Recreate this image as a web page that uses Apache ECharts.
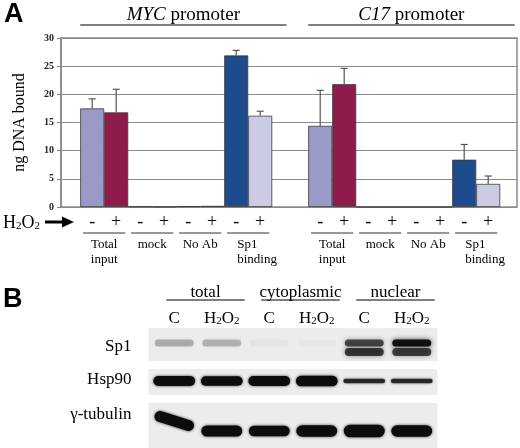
<!DOCTYPE html>
<html><head><meta charset="utf-8">
<script src="https://cdn.jsdelivr.net/npm/echarts@6/dist/echarts.min.js"></script>
<style>html,body{margin:0;padding:0;background:#fff}#c{width:520px;height:448px}</style>
</head><body><div id="c"></div>
<script>
// ---------------- data (panel A) ----------------
const promoters = ['MYC', 'C17'];
const groupLabels = ['Total\ninput', 'mock', 'No Ab', 'Sp1\nbinding'];
const treatments = ['-', '+'];
const yTicks = [0, 5, 10, 15, 20, 25, 30];
const mycMinus = [17.5, 0.1, 0.15, 26.9];
const mycPlus = [16.8, 0.05, 0.2, 16.2];
const mycMinusErr = [1.7, 0, 0, 0.9];
const mycPlusErr = [4.1, 0, 0, 0.8];
const c17Minus = [14.4, 0, 0, 8.4];
const c17Plus = [21.8, 0, 0, 4.1];
const c17MinusErr = [6.3, 0, 0, 2.7];
const c17PlusErr = [2.8, 0, 0, 1.4];

// ---------------- data (panel B, band intensities) ----------------
const lanes = ['C', 'H2O2', 'C', 'H2O2', 'C', 'H2O2'];
const fractions = ['total', 'cytoplasmic', 'nuclear'];
const blotRows = ['Sp1', 'Hsp90', 'γ-tubulin'];
const sp1Upper = [0.26, 0.24, 0.03, 0.02, 0.68, 0.97];
const sp1Lower = [0.0, 0.0, 0.0, 0.0, 0.75, 0.72];
const hsp90 = [1.0, 0.95, 1.0, 1.05, 0.45, 0.45];
const tubulin = [1.0, 1.0, 0.95, 1.05, 1.15, 1.05];

// ---------------- layout & style ----------------
const SERIF = '"Liberation Serif", "Times New Roman", serif';
const groupOffset = [0.9, 5.65];
const xMax = 9.5;
const barColors = {
  '-': ['#9b99c7', '#6e2040', '#4b2a5a', '#1d4b8c'],
  '+': ['#8e1b4c', '#b08a8a', '#b0604a', '#cbcbe5']
};
const labelAlign = ['center', 'center', 'center', 'left'];
const rowBoxes = [[0, 33], [41, 67], [75, 120]];
const bandY = [15, 24, 53, 103];
const rowLabelY = [19, 52, 87];
const fractionLanes = [[0, 1], [2, 3], [4, 5]];
const bandTilt = [{ kind: 3, lane: 0, dy: -10, rot: -0.3 }];

const minusVals = [mycMinus, c17Minus], plusVals = [mycPlus, c17Plus];
const minusErr = [mycMinusErr, c17MinusErr], plusErr = [mycPlusErr, c17PlusErr];

const barData = [], errData = [], groupData = [];
promoters.forEach((p, pi) => {
  groupLabels.forEach((g, gi) => {
    const c = groupOffset[pi] + gi;
    barData.push({ value: [c - 0.25, minusVals[pi][gi]], itemStyle: { color: barColors['-'][gi] } });
    barData.push({ value: [c + 0.25, plusVals[pi][gi]], itemStyle: { color: barColors['+'][gi] } });
    if (minusErr[pi][gi] > 0) errData.push([c - 0.25, minusVals[pi][gi], minusErr[pi][gi]]);
    if (plusErr[pi][gi] > 0) errData.push([c + 0.25, plusVals[pi][gi], plusErr[pi][gi]]);
    groupData.push([c, gi]);
  });
});
const headerData = promoters.map((p, pi) => [groupOffset[pi], pi]);

const bandData = [];
lanes.forEach((l, i) => {
  bandData.push([i, bandY[0], sp1Upper[i], 0]);
  bandData.push([i, bandY[1], sp1Lower[i], 1]);
  bandData.push([i, bandY[2], hsp90[i], 2]);
  bandData.push([i, bandY[3], tubulin[i], 3]);
});
const bandSpec = [
  { w: 0.82, h: v => 7, a: v => v, blur: 5 },
  { w: 0.82, h: v => 8, a: v => v, blur: 5 },
  { w: 0.88, h: v => 10 * v, a: v => Math.min(1, 0.35 + v), blur: 3 },
  { w: 0.86, h: v => 11 * v, a: v => 1, blur: 3 }
];

// text via rich tokens so the serif family is honoured
function txt(x, y, text, size, align, valign, lh) {
  const rt = String(text).split('\n').map(s => '{t|' + s + '}').join('\n');
  return {
    type: 'text', x: x, y: y,
    style: {
      text: rt,
      rich: { t: { fontSize: size, fontFamily: SERIF, color: '#000', lineHeight: lh || Math.round(size * 1.15), align: align } },
      align: align, verticalAlign: valign
    }
  };
}
const subRich = {
  n: { fontSize: 18, fontFamily: SERIF, color: '#000', lineHeight: 20, verticalAlign: 'bottom' },
  s: { fontSize: 11, fontFamily: SERIF, color: '#000', lineHeight: 9, verticalAlign: 'bottom' }
};

const chart = echarts.init(document.getElementById('c'));
chart.setOption({
  animation: false,
  backgroundColor: '#fff',
  grid: [
    { left: 61, top: 38, width: 456, height: 169, show: true, borderColor: '#8a8a8a', borderWidth: 1.5, backgroundColor: 'transparent' },
    { left: 150.5, top: 328, width: 285, height: 120 }
  ],
  xAxis: [
    { gridIndex: 0, type: 'value', min: 0, max: xMax, show: false },
    {
      gridIndex: 1, type: 'category', data: lanes, position: 'top',
      axisLine: { show: false }, axisTick: { show: false }, splitLine: { show: false },
      axisLabel: {
        interval: 0, margin: 1,
        formatter: v => v === 'H2O2' ? '{n|H}{s|2}{n|O}{s|2}' : '{n|' + v + '}',
        rich: {
          n: { fontSize: 17, fontFamily: SERIF, color: '#000', lineHeight: 20, verticalAlign: 'bottom' },
          s: { fontSize: 11, fontFamily: SERIF, color: '#000', lineHeight: 9, verticalAlign: 'bottom' }
        }
      }
    }
  ],
  yAxis: [
    {
      gridIndex: 0, type: 'value', min: yTicks[0], max: yTicks[yTicks.length - 1], interval: yTicks[1] - yTicks[0],
      axisLine: { show: true, lineStyle: { color: '#8a8a8a', width: 1.5 } },
      axisTick: { show: true, length: 4, lineStyle: { color: '#8a8a8a', width: 1.2 } },
      axisLabel: { fontSize: 10, fontFamily: SERIF, fontWeight: 'bold', color: '#222', margin: 7 },
      splitLine: { show: true, lineStyle: { color: '#8a8a8a', width: 1.2 } },
      name: 'ng DNA bound', nameLocation: 'middle', nameGap: 33,
      nameTextStyle: { fontSize: 16, fontFamily: SERIF, color: '#000' }
    },
    { gridIndex: 1, type: 'value', min: 0, max: 120, inverse: true, show: false }
  ],
  graphic: [
    { type: 'text', x: 4, y: 1, style: { text: 'A', fontSize: 27, fontWeight: 'bold', fontFamily: '"Liberation Sans", Arial, sans-serif', fill: '#000', verticalAlign: 'top' } },
    { type: 'text', x: 3, y: 286, style: { text: 'B', fontSize: 27, fontWeight: 'bold', fontFamily: '"Liberation Sans", Arial, sans-serif', fill: '#000', verticalAlign: 'top' } },
    { type: 'text', x: 3, y: 222, style: { text: '{n|H}{s|2}{n|O}{s|2}', rich: subRich, verticalAlign: 'middle', align: 'left' } },
    { type: 'line', shape: { x1: 45, y1: 222, x2: 64, y2: 222 }, style: { stroke: '#000', lineWidth: 3 } },
    { type: 'polygon', shape: { points: [[62, 216.5], [74, 222], [62, 227.5]] }, style: { fill: '#000' } }
  ],
  series: [
    {
      type: 'bar', xAxisIndex: 0, yAxisIndex: 0, data: barData, barWidth: 24,
      itemStyle: { borderColor: '#3c3c3c', borderWidth: 0.8 }, z: 2
    },
    {
      type: 'custom', xAxisIndex: 0, yAxisIndex: 0, data: errData, z: 3, clip: false,
      encode: { x: 0, y: 1 },
      renderItem: (params, api) => {
        const x = api.value(0), y = api.value(1), e = api.value(2);
        const p0 = api.coord([x, y]), p1 = api.coord([x, y + e]);
        const st = { stroke: '#555', lineWidth: 1.2 };
        return {
          type: 'group', children: [
            { type: 'line', shape: { x1: p0[0], y1: p0[1], x2: p1[0], y2: p1[1] }, style: st },
            { type: 'line', shape: { x1: p1[0] - 3.5, y1: p1[1], x2: p1[0] + 3.5, y2: p1[1] }, style: st }
          ]
        };
      }
    },
    {
      type: 'custom', xAxisIndex: 0, yAxisIndex: 0, data: groupData, z: 3, clip: false,
      encode: { x: 0, y: 1 },
      renderItem: (params, api) => {
        const c = api.value(0), gi = api.value(1);
        const base = api.coord([c, 0]);
        const pm = api.coord([c - 0.25, 0]), pp = api.coord([c + 0.25, 0]);
        const half = api.size([0.44, 0])[0];
        const y0 = base[1];
        const al = labelAlign[gi];
        const lx = al === 'left' ? base[0] - 11 : base[0];
        return {
          type: 'group', children: [
            txt(pm[0], y0 + 15, treatments[0], 18, 'center', 'middle'),
            txt(pp[0], y0 + 15, treatments[1], 18, 'center', 'middle'),
            { type: 'line', shape: { x1: base[0] - half, y1: y0 + 26, x2: base[0] + half, y2: y0 + 26 }, style: { stroke: '#333', lineWidth: 1 } },
            txt(lx, y0 + 30, groupLabels[gi], 13, al, 'top', 15)
          ]
        };
      }
    },
    {
      type: 'custom', xAxisIndex: 0, yAxisIndex: 0, data: headerData, z: 3, clip: false,
      encode: { x: 0, y: 1 },
      renderItem: (params, api) => {
        const off = api.value(0), pi = api.value(1);
        const a = api.coord([off - 0.5, yTicks[yTicks.length - 1]]);
        const b = api.coord([off + 3.8, yTicks[yTicks.length - 1]]);
        const yl = a[1] - 13;
        return {
          type: 'group', children: [
            { type: 'line', shape: { x1: a[0], y1: yl, x2: b[0], y2: yl }, style: { stroke: '#000', lineWidth: 1.2 } },
            {
              type: 'text', x: (a[0] + b[0]) / 2, y: a[1] - 23,
              style: {
                text: '{i|' + promoters[pi] + '}{n| promoter}',
                rich: {
                  i: { fontSize: 19, fontFamily: SERIF, fontStyle: 'italic', color: '#000' },
                  n: { fontSize: 19, fontFamily: SERIF, color: '#000' }
                },
                align: 'center', verticalAlign: 'middle'
              }
            }
          ]
        };
      }
    },
    // ---------- panel B ----------
    {
      type: 'custom', xAxisIndex: 1, yAxisIndex: 1, data: rowBoxes.map((r, i) => [0, r[0], i]), z: 1, clip: false,
      encode: { x: 0, y: 1 },
      renderItem: (params, api) => {
        const cs = params.coordSys;
        const box = rowBoxes[api.value(2)];
        const t = api.coord([0, box[0]])[1], b = api.coord([0, box[1]])[1];
        return { type: 'rect', shape: { x: cs.x - 2, y: t, width: cs.width + 4, height: b - t }, style: { fill: '#ececec' } };
      }
    },
    {
      type: 'custom', xAxisIndex: 1, yAxisIndex: 1, data: bandData, z: 2, clip: false,
      encode: { x: 0, y: 1 },
      renderItem: (params, api) => {
        const lane = api.value(0), yc = api.value(1), v = api.value(2), kind = api.value(3);
        const c = api.coord([lane, yc]);
        const laneW = api.size([1, 0])[0];
        const sp = bandSpec[kind];
        const h = sp.h(v), a = sp.a(v), w = laneW * sp.w;
        let dy = 0, rot = 0;
        bandTilt.forEach(t => { if (t.kind === kind && t.lane === lane) { dy = t.dy; rot = t.rot; } });
        if (a < 0.015) return { type: 'group', children: [] };
        return {
          type: 'rect', x: c[0], y: c[1] + dy, rotation: rot,
          shape: { x: -w / 2, y: -h / 2, width: w, height: h, r: h / 2 },
          style: { fill: 'rgba(12,12,12,' + a + ')', shadowBlur: sp.blur, shadowColor: 'rgba(12,12,12,' + (a * 0.8) + ')' }
        };
      }
    },
    {
      type: 'custom', xAxisIndex: 1, yAxisIndex: 1, data: blotRows.map((r, i) => [0, rowLabelY[i], i]), z: 3, clip: false,
      encode: { x: 0, y: 1 },
      renderItem: (params, api) => {
        const cs = params.coordSys;
        const y = api.coord([0, api.value(1)])[1];
        return txt(cs.x - 19, y, blotRows[api.value(2)], 17, 'right', 'middle');
      }
    },
    {
      type: 'custom', xAxisIndex: 1, yAxisIndex: 1, data: fractionLanes.map((f, i) => [f[0], f[1], i]), z: 3, clip: false,
      encode: { x: 0 },
      renderItem: (params, api) => {
        const cs = params.coordSys;
        const a = api.coord([api.value(0), 0]), b = api.coord([api.value(1), 0]);
        const x1 = a[0] - 8, x2 = b[0] + 23, y = cs.y - 28;
        return {
          type: 'group', children: [
            { type: 'line', shape: { x1: x1, y1: y, x2: x2, y2: y }, style: { stroke: '#000', lineWidth: 1.2 } },
            txt((x1 + x2) / 2, y - 7, fractions[api.value(2)], 17, 'center', 'middle')
          ]
        };
      }
    }
  ]
});
</script>
</body></html>
